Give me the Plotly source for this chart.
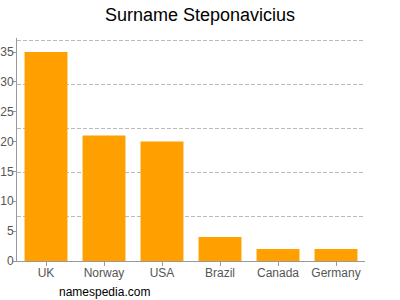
import plotly.graph_objects as go

countries = ["UK", "Norway", "USA", "Brazil", "Canada", "Germany"]
counts = [35, 21, 20, 4, 2, 2]
y_ticks = [0, 5, 10, 15, 20, 25, 30, 35]
grid_vals = [7.4, 14.8, 22.2, 29.6, 37]
y_max = 37.35

fig = go.Figure()
fig.add_trace(go.Scatter(x=countries, y=[None]*len(countries), yaxis="y2", showlegend=False, hoverinfo="skip"))
fig.add_trace(go.Bar(x=countries, y=counts, marker_color="#FFA000", marker_line_width=0))

font = "Liberation Sans, Arial"
fig.update_layout(
    width=400, height=300,
    margin=dict(l=17, r=35, t=38, b=39),
    paper_bgcolor="white", plot_bgcolor="white",
    showlegend=False,
    bargap=0.26,
    title=dict(text="Surname Steponavicius", x=0.5, xanchor="center", y=0.95, yanchor="middle",
               font=dict(family=font, size=18, color="#000")),
    xaxis=dict(showline=True, linecolor="#999", linewidth=1, ticks="outside", ticklen=4, tickcolor="#999",
               ticklabelstandoff=-3,
               tickfont=dict(family=font, size=12, color="#555"), showgrid=False, automargin=False),
    yaxis=dict(range=[0, y_max], tickvals=y_ticks, showgrid=False, showline=True, linecolor="#999",
               linewidth=1, ticks="outside", ticklen=3, tickcolor="#999", zeroline=False, automargin=False,
               ticklabelstandoff=-3,
               tickfont=dict(family=font, size=12, color="#555")),
    yaxis2=dict(range=[0, y_max], overlaying="y", tickvals=grid_vals, showticklabels=False, showgrid=True,
                gridcolor="#bbb", griddash="4px,2px", gridwidth=1, zeroline=False, side="left",
                automargin=False, ticks=""),
    annotations=[dict(text="namespedia.com", xref="paper", yref="paper", x=(57 - 17) / 348,
                      y=-(292 - 261) / 223, xanchor="left", yanchor="middle", showarrow=False,
                      font=dict(family=font, size=12, color="#000"))],
)
fig.write_html("out.html")
